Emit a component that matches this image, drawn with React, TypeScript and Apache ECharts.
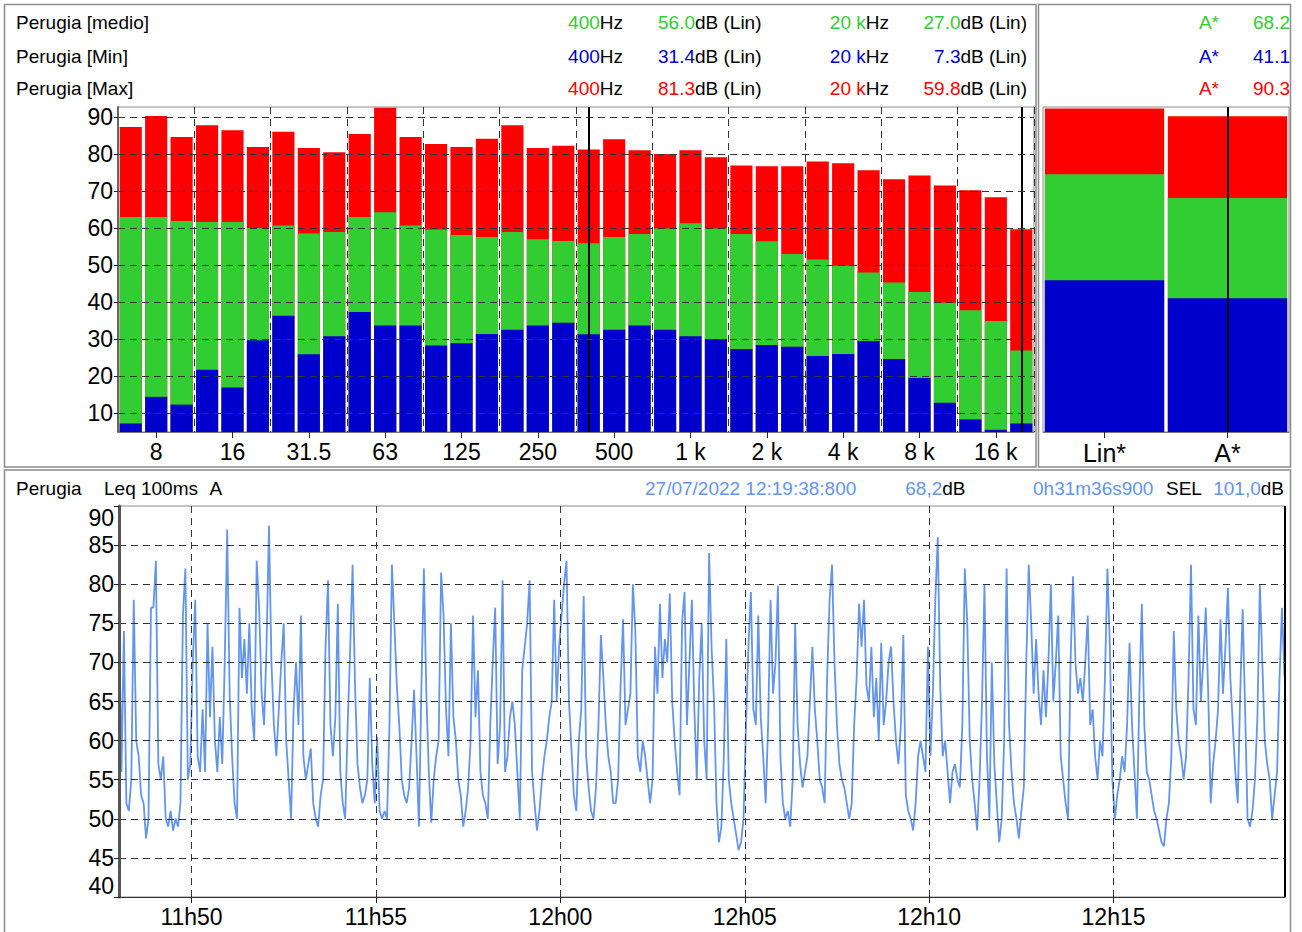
import React, { useEffect, useRef } from 'react';
import * as echarts from 'echarts';

// ---------- DATA ----------
const bands = ['6.3','8','10','12.5','16','20','25','31.5','40','50','63','80','100','125','160','200','250','315','400','500','630','800','1 k','1.25 k','1.6 k','2 k','2.5 k','3.15 k','4 k','5 k','6.3 k','8 k','10 k','12.5 k','16 k','20 k'];
const maxLevels = [87.4,90.4,84.7,87.9,86.5,82.0,86.1,81.7,80.6,85.5,92.6,84.7,82.8,82.0,84.2,87.9,81.7,82.3,81.3,84.1,81.1,80.1,81.1,79.2,77.0,76.8,76.8,78.1,77.6,75.7,73.3,74.3,71.6,70.3,68.4,59.8];
const medianLevels = [63.1,63.1,62.0,61.7,61.7,60.1,60.8,58.6,59.0,63.1,64.4,60.8,59.7,58.2,57.7,59.0,57.1,56.6,56.0,57.7,58.5,60.0,61.4,60.0,58.5,56.5,53.1,51.6,49.9,48.1,45.4,42.8,39.9,37.9,35.0,27.0];
const minLevels = [7.3,14.5,12.4,21.8,17.0,29.8,36.4,26.0,30.9,37.4,33.8,33.8,28.4,29.0,31.5,32.6,33.8,34.5,31.4,32.6,33.8,32.6,30.9,30.1,27.4,28.5,28.0,25.5,26.1,29.6,24.7,19.6,12.9,8.4,5.6,7.3];

const totalCats = ['Lin*', 'A*'];
const totalMax = [92.4, 90.3];
const totalMedian = [74.6, 68.2];
const totalMin = [46.0, 41.1];

// Leq 100ms A, read every 4 s from 11:48:02
const leqStart = 42482; // seconds since midnight (11:48:02)
const leqStep = 4;
const leqEnd = 44378.9;
const leqCursor = 44378.8;
const leqValues = [
  77,56,74,52,51,55,78,60,58,53,
  52,47.5,50,77,77,83,57,55,58,50,
  49,51,48.5,50,49,52,76,82,55,57,
  70,78,58,56,64,56,75,63,72,60,
  56,63,57,70,87,66,58,52,50,77,
  68,73,66,75,64,60,83,77,66,62,
  72,87.5,70,62,58,64,70,75,60,55,
  50,64,70,62,76,58,55,57,59,52,
  50,49,53,55,72,80.5,62,58,63,77.5,
  56,52,50,62,71.5,82.5,67,57,54,52,
  53,55,68,57,52,60.5,51,50,51,50,
  62,82.5,75,67,62,55,53,52,54,60,
  66.5,58,49,67,82,66,56,49.5,55,58,
  60,81.5,76,64,58,
  75,63,60,55,53,49,51,54,60,76,
  63,69,56,53,52,50,62,70,77,57,
  62,80.5,56,58,63,65,62,56,50,69,
  72,75,80.5,56,52,48.5,51,55,58,60,
  63,65,78,65,72,76,80,83,65,59,
  53,51,60,64,78.5,58,54,51,50,54,
  62,73.5,68,62,58,56,52,52,55,67,
  75.5,62,64,66,80,74,58,56,60,58,
  55,52,55,72,66,77.5,68,73,70,78.8,
  65,60,56,53,75,79,62,70,78,64,
  55,68,75,60,55,84,72,65,52,47,
  49,58,73,55,52,50,48,46,47,50,
  62,72,79,64,62,76,63,58,52,62,
  78,66,70,79.8,58,52,50,51,49,55,
  75,62,57,54,56,58,65,72,64,60,
  55,54,52,68,78,82.5,70,62,57,55,
  54,52,50,52,62,68,77.5,72,78,67,
  65,
  72,63,68,60,72.5,62,65,70,72,65,
  60,57,62,73.5,53,51,50,48.5,52,58,
  60,58,56,72,58,66,78,86,67,58,
  60,56,52,56,57,55,54,62,82,75,
  60,55,52,48.5,55,65,80,58,50,70,
  57,52,47,50,60,82,62,56,52,50,
  47.5,51,54,70,82.5,75,66,73,66,62,
  69,63,70,80,65,70,76,58,55,52,
  50,70,81,70,66,68,65,70,76,62,
  64,58,55,60,58,68,82,72,55,50,
  53,55,58,56,62,72.5,62,56,50,66,
  77.5,62,56,55,53,51,50,48.5,47,46.5,
  50,52,58,74,64,60,58,55,58,68,
  82.5,64,62,76,65,70,77,66,52,57,
  60,64,75.5,66,72,79.5,68,62,56,52,
  66,76.8,64,50,49,51,55,63,80,70,
  60,57,55,50,53,56,68,77,68.2
];

// ---------- STYLE ----------
const FONT = '"Liberation Sans", Arial, Helvetica, sans-serif';
const GREEN = '#32CD32';
const BLUE = '#0000CD';
const RED = '#FF0000';
const LIGHT = '#6495ED';
const HFS = 19;

type Seg = [string, string];
function richText(x: number, y: number, segs: Seg[], align: 'left' | 'right' = 'left', fs = HFS) {
  const rich: Record<string, any> = {};
  segs.forEach((s, i) => {
    rich['s' + i] = { fill: s[1], fontSize: fs, fontFamily: FONT };
  });
  return {
    type: 'text',
    x,
    y,
    silent: true,
    style: {
      text: segs.map((s, i) => `{s${i}|${s[0]}}`).join(''),
      rich,
      fontSize: fs,
      fontFamily: FONT,
      align,
      verticalAlign: 'middle',
    },
  };
}

const headerRows = [
  { label: 'Perugia [medio]', color: GREEN, v1: '56.0', v2: '27.0', a: '68.2', y: 22 },
  { label: 'Perugia [Min]', color: BLUE, v1: '31.4', v2: '7.3', a: '41.1', y: 56 },
  { label: 'Perugia [Max]', color: RED, v1: '81.3', v2: '59.8', a: '90.3', y: 88 },
];

function fmtTime(v: number) {
  const h = Math.floor(v / 3600);
  const m = Math.floor((v % 3600) / 60);
  return `${h}h${String(m).padStart(2, '0')}`;
}

const dash = [7, 5];

export default function App() {
  const ref = useRef<HTMLDivElement>(null);

  useEffect(() => {
    if (!ref.current) return;
    const chart = echarts.init(ref.current, undefined, { renderer: 'svg' });

    const leqPoints = leqValues.map((v, i) => [leqStart + i * leqStep, v]);

    const graphics: any[] = [
      { type: 'rect', silent: true, shape: { x: 4.5, y: 4.5, width: 1031.5, height: 462.5 }, style: { fill: 'none', stroke: '#8c8c8c', lineWidth: 1.5 } },
      { type: 'rect', silent: true, shape: { x: 1038.5, y: 4.5, width: 252, height: 462.5 }, style: { fill: 'none', stroke: '#8c8c8c', lineWidth: 1.5 } },
      { type: 'rect', silent: true, shape: { x: 4.5, y: 470, width: 1286, height: 470 }, style: { fill: 'none', stroke: '#8c8c8c', lineWidth: 1.5 } },
    ];
    headerRows.forEach((r) => {
      graphics.push(richText(16, r.y, [[r.label, '#000']]));
      graphics.push(richText(623, r.y, [['400', r.color], ['Hz', '#000']], 'right'));
      graphics.push(richText(761.5, r.y, [[r.v1, r.color], ['dB (Lin)', '#000']], 'right'));
      graphics.push(richText(889, r.y, [['20 k', r.color], ['Hz', '#000']], 'right'));
      graphics.push(richText(1027, r.y, [[r.v2, r.color], ['dB (Lin)', '#000']], 'right'));
      graphics.push(richText(1219, r.y, [['A*', r.color]], 'right'));
      graphics.push(richText(1290, r.y, [[r.a, r.color]], 'right'));
    });
    const by = 488;
    graphics.push(richText(16, by, [['Perugia', '#000']]));
    graphics.push(richText(104, by, [['Leq 100ms', '#000']]));
    graphics.push(richText(209.5, by, [['A', '#000']]));
    graphics.push(richText(645, by, [['27/07/2022 12:19:38:800', LIGHT]]));
    graphics.push(richText(965.5, by, [['68,2', LIGHT], ['dB', '#000']], 'right'));
    graphics.push(richText(1033, by, [['0h31m36s900', LIGHT]]));
    graphics.push(richText(1166, by, [['SEL', '#000']]));
    graphics.push(richText(1284, by, [['101,0', LIGHT], ['dB', '#000']], 'right'));

    const cursorLine = {
      silent: true,
      symbol: ['none', 'none'],
      label: { show: false },
      animation: false,
      lineStyle: { color: '#000', width: 2, type: 'solid' },
      emphasis: { disabled: true },
    };

    const labelStyle = { fontSize: 23, fontFamily: FONT, color: '#000' };

    const option: any = {
      animation: false,
      backgroundColor: '#fff',
      textStyle: { fontFamily: FONT },
      graphic: { elements: graphics },
      grid: [
        { left: 118, top: 107, width: 916, height: 325, show: true, borderColor: '#8c8c8c', borderWidth: 1, outerBoundsMode: 'none', containLabel: false },
        { left: 1043, top: 107, width: 246, height: 325, show: true, borderColor: '#8c8c8c', borderWidth: 1, outerBoundsMode: 'none', containLabel: false },
        { left: 119, top: 506, width: 1166, height: 391, show: true, borderColor: '#8c8c8c', borderWidth: 1, outerBoundsMode: 'none', containLabel: false },
      ],
      xAxis: [
        {
          type: 'category', gridIndex: 0, data: bands, boundaryGap: true, z: 10,
          axisLine: { show: true, lineStyle: { color: '#777', width: 1 } },
          axisTick: { show: true, alignWithLabel: true, interval: (i: number) => i % 3 === 1, length: 6, lineStyle: { color: '#222' } },
          axisLabel: { ...labelStyle, interval: (i: number) => i % 3 === 1, margin: 8 },
          splitLine: { show: true, interval: (i: number) => i > 0 && i % 3 === 0, lineStyle: { type: dash, color: '#333', width: 1 } },
        },
        {
          type: 'category', gridIndex: 1, data: totalCats, boundaryGap: true, z: 10,
          axisLine: { show: true, lineStyle: { color: '#777', width: 1 } },
          axisTick: { show: true, alignWithLabel: true, length: 6, lineStyle: { color: '#222' } },
          axisLabel: { ...labelStyle, fontSize: 25, margin: 8 },
          splitLine: { show: false },
        },
        {
          type: 'value', gridIndex: 2, min: leqStart, max: leqEnd, minInterval: 300, maxInterval: 300, splitNumber: 6, z: 10,
          axisLine: { show: true, lineStyle: { color: '#333', width: 1 } },
          axisTick: { show: true, length: 6, lineStyle: { color: '#222' } },
          axisLabel: { ...labelStyle, margin: 8, formatter: fmtTime, showMinLabel: false, showMaxLabel: false },
          splitLine: { show: true, showMinLine: false, showMaxLine: false, lineStyle: { type: dash, color: '#333', width: 1 } },
        },
      ],
      yAxis: [
        {
          type: 'value', gridIndex: 0, min: 5, max: 92.8, minInterval: 10, maxInterval: 10, splitNumber: 9, z: 10,
          axisLine: { show: true, lineStyle: { color: '#666', width: 2 } },
          axisTick: { show: true, length: 4, lineStyle: { color: '#222' } },
          axisLabel: { ...labelStyle, margin: 5, showMinLabel: false, showMaxLabel: false },
          splitLine: { show: true, showMinLine: false, showMaxLine: false, lineStyle: { type: dash, color: '#333', width: 1.2 } },
        },
        {
          type: 'value', gridIndex: 1, min: 5, max: 92.8, show: false,
          splitLine: { show: false },
        },
        {
          type: 'value', gridIndex: 2, min: 40, max: 90, interval: 5, z: 10,
          axisLine: { show: true, lineStyle: { color: '#555', width: 3 } },
          axisTick: { show: true, length: 5, lineStyle: { color: '#222' } },
          axisLabel: { ...labelStyle, margin: 5, verticalAlignMinLabel: 'bottom', verticalAlignMaxLabel: 'top' },
          splitLine: { show: true, showMinLine: false, showMaxLine: false, lineStyle: { type: dash, color: '#333', width: 1.2 } },
        },
      ],
      series: [
        { type: 'bar', xAxisIndex: 0, yAxisIndex: 0, data: maxLevels, itemStyle: { color: RED }, barGap: '-100%', barCategoryGap: '13%', silent: true },
        { type: 'bar', xAxisIndex: 0, yAxisIndex: 0, data: medianLevels, itemStyle: { color: GREEN }, barGap: '-100%', barCategoryGap: '13%', silent: true },
        {
          type: 'bar', xAxisIndex: 0, yAxisIndex: 0, data: minLevels, itemStyle: { color: BLUE }, barGap: '-100%', barCategoryGap: '13%', silent: true,
          markLine: { ...cursorLine, data: [{ xAxis: '400' }, { xAxis: '20 k' }] },
        },
        { type: 'bar', xAxisIndex: 1, yAxisIndex: 1, data: totalMax, itemStyle: { color: RED }, barGap: '-100%', barCategoryGap: '3%', silent: true },
        { type: 'bar', xAxisIndex: 1, yAxisIndex: 1, data: totalMedian, itemStyle: { color: GREEN }, barGap: '-100%', barCategoryGap: '3%', silent: true },
        {
          type: 'bar', xAxisIndex: 1, yAxisIndex: 1, data: totalMin, itemStyle: { color: BLUE }, barGap: '-100%', barCategoryGap: '3%', silent: true,
          markLine: { ...cursorLine, data: [{ xAxis: 'A*' }] },
        },
        {
          type: 'line', xAxisIndex: 2, yAxisIndex: 2, data: leqPoints, showSymbol: false, symbol: 'none', silent: true,
          lineStyle: { color: LIGHT, width: 1.8 },
          markLine: { ...cursorLine, data: [{ xAxis: leqCursor }] },
        },
      ],
    };

    chart.setOption(option);
    return () => chart.dispose();
  }, []);

  return <div ref={ref} style={{ position: 'absolute', left: 0, top: 0, width: 1302, height: 932, background: '#fff' }} />;
}
